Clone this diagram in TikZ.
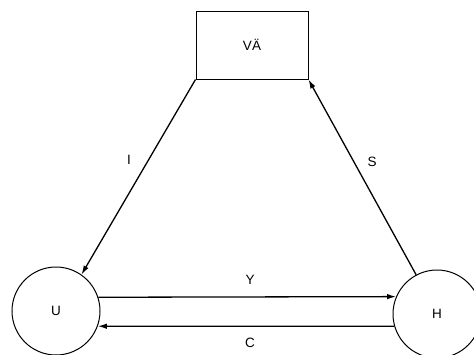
\documentclass[tikz,border=0pt]{standalone}
\usepackage{fontspec}
\setmainfont{Liberation Sans}
\usetikzlibrary{arrows.meta}
\begin{document}
\begin{tikzpicture}[x=1pt,y=-1pt,
  txt/.style={font=\fontsize{13.5}{16}\selectfont},
  state/.style={draw,circle,line width=1pt,minimum size=88pt,inner sep=0pt,txt},
  boxnode/.style={draw,line width=1pt,minimum width=112pt,minimum height=68pt,inner sep=0pt,txt},
  conn/.style={line width=1.3pt,-{Latex[length=9pt,width=5.5pt]}},
  lbl/.style={txt,inner sep=0pt}]
\useasboundingbox (0,0) rectangle (474,354);
\clip (0,0) rectangle (474,354);
\node[boxnode] (VA) at (252,45) {VÄ};
\node[state] (U) at (56,311) {U};
\node[state] (H) at (437,314) {H};
\draw[conn] (VA.south west) -- (U.55);
\draw[conn] (H.118) -- (VA.south east);
\draw[conn] (U.18) -- (H.157);
\draw[conn] (H.-164) -- (U.-20);
\node[lbl] (LI) at (129,160) {I};
\node[lbl] (LS) at (372,162) {S};
\node[lbl] (LY) at (250,280) {Y};
\node[lbl] (LC) at (250,343) {C};
\end{tikzpicture}
\end{document}
